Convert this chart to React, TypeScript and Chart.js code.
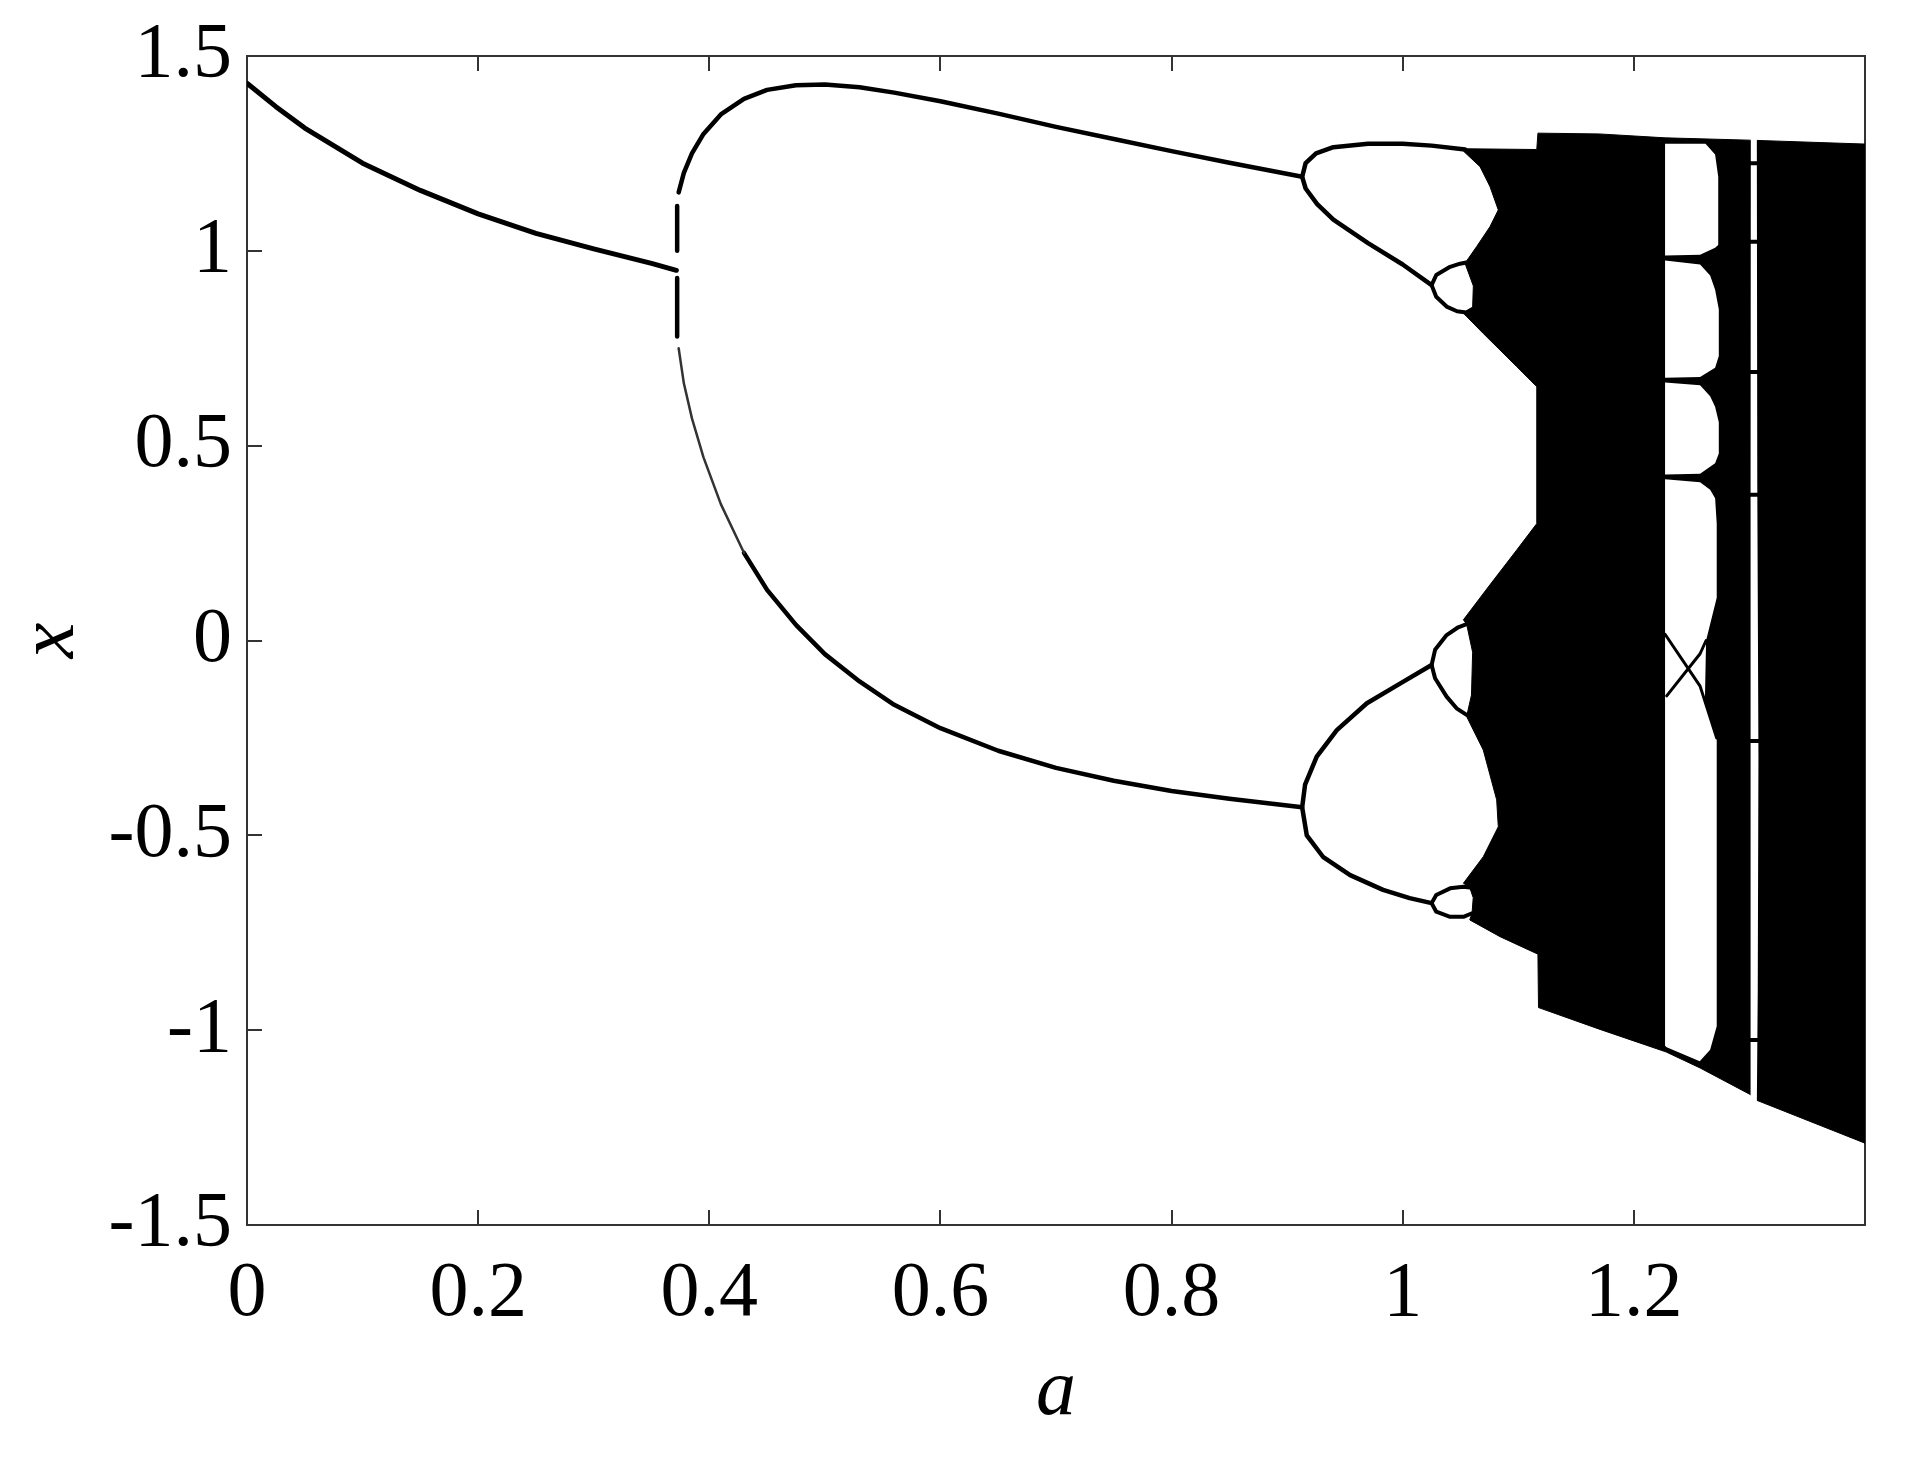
import React, { useEffect, useRef } from "react";
import { Chart, registerables } from "chart.js";

Chart.register(...registerables);

type Pt = [number, number];

// ---- axis ticks ----
const xTickValues = [0, 0.2, 0.4, 0.6, 0.8, 1.0, 1.2, 1.4];
const xTickLabels = ["0", "0.2", "0.4", "0.6", "0.8", "1", "1.2", ""];
const yTickValues = [-1.5, -1, -0.5, 0, 0.5, 1, 1.5];
const yTickLabels = ["-1.5", "-1", "-0.5", "0", "0.5", "1", "1.5"];

// ---- periodic branches (a, x) ----
const period1: Pt[] = [
  [0, 1.43], [0.025, 1.37], [0.05, 1.315], [0.1, 1.225], [0.15, 1.155], [0.2, 1.095],
  [0.25, 1.045], [0.3, 1.005], [0.35, 0.968], [0.3715, 0.95],
];
const transientDash1: Pt[] = [[0.3722, 1.115], [0.3722, 1.0]];
const transientDash2: Pt[] = [[0.3722, 0.93], [0.3722, 0.78]];

const period2Upper: Pt[] = [
  [0.3735, 1.15], [0.378, 1.2], [0.385, 1.25], [0.395, 1.3], [0.41, 1.35], [0.43, 1.39],
  [0.45, 1.413], [0.475, 1.425], [0.5, 1.427], [0.53, 1.42], [0.56, 1.406], [0.6, 1.384],
  [0.65, 1.352], [0.7, 1.318], [0.75, 1.287], [0.8, 1.256], [0.85, 1.226], [0.913, 1.19],
];
const period2LowerFaint: Pt[] = [
  [0.3735, 0.75], [0.378, 0.66], [0.385, 0.57], [0.395, 0.47], [0.41, 0.35], [0.43, 0.225],
];
const period2Lower: Pt[] = [
  [0.43, 0.225], [0.45, 0.13], [0.475, 0.04], [0.5, -0.035], [0.53, -0.105], [0.56, -0.165],
  [0.6, -0.225], [0.65, -0.283], [0.7, -0.327], [0.75, -0.36], [0.8, -0.386], [0.85, -0.406],
  [0.913, -0.428],
];

const period4Upper: Pt[] = [
  [1.054, 1.26], [1.025, 1.27], [1.0, 1.275], [0.97, 1.275], [0.94, 1.266], [0.925, 1.25],
  [0.916, 1.225], [0.913, 1.19], [0.916, 1.16], [0.926, 1.12], [0.94, 1.08], [0.97, 1.02],
  [1.0, 0.965], [1.025, 0.912],
];
const period4Lower: Pt[] = [
  [1.025, -0.063], [0.998, -0.11], [0.969, -0.161], [0.943, -0.23], [0.9256, -0.298],
  [0.9155, -0.37], [0.913, -0.428], [0.917, -0.5], [0.931, -0.555], [0.9545, -0.602],
  [0.983, -0.64], [1.006, -0.661], [1.025, -0.674],
];
const period8UpperOval: Pt[] = [
  [1.055, 0.97], [1.0496, 0.967], [1.041, 0.959], [1.029, 0.938], [1.025, 0.912],
  [1.029, 0.882], [1.038, 0.857], [1.047, 0.845], [1.055, 0.842], [1.06, 0.85],
];
const period8MidOval: Pt[] = [
  [1.0553, 0.042], [1.048, 0.034], [1.038, 0.014], [1.028, -0.024], [1.025, -0.063],
  [1.028, -0.097], [1.038, -0.144], [1.0466, -0.174], [1.0553, -0.191],
];
const period8LowOval: Pt[] = [
  [1.058, -0.634], [1.0525, -0.632], [1.041, -0.636], [1.029, -0.653], [1.025, -0.674],
  [1.029, -0.696], [1.041, -0.709], [1.0525, -0.709], [1.06, -0.7],
];

// ---- chaotic band outline (filled black) ----
const chaosOutline: Pt[] = [
  [1.0525, 1.262], [1.116, 1.26], [1.117, 1.302], [1.17, 1.3], [1.227, 1.29], [1.3, 1.284],
  [1.4, 1.274], [1.4, -1.29], [1.3064, -1.18], [1.3006, -1.165], [1.2573, -1.097],
  [1.228, -1.056], [1.1707, -0.998], [1.1175, -0.942], [1.117, -0.805], [1.0842, -0.76],
  [1.058, -0.717], [1.06, -0.7], [1.061, -0.66], [1.058, -0.634], [1.0525, -0.623],
  [1.0697, -0.555], [1.0827, -0.478], [1.0813, -0.409], [1.0697, -0.281], [1.0553, -0.195],
  [1.0595, -0.14], [1.0605, -0.03], [1.0553, 0.042], [1.0525, 0.053], [1.0755, 0.143],
  [1.0986, 0.232], [1.116, 0.3], [1.116, 0.6515], [1.0986, 0.703], [1.0697, 0.788],
  [1.0525, 0.84], [1.0605, 0.855], [1.0611, 0.91], [1.0539, 0.968], [1.064, 1.011],
  [1.0755, 1.062], [1.0827, 1.105], [1.0755, 1.165], [1.0669, 1.216], [1.0525, 1.256],
];

// ---- periodic windows inside the chaotic band (white) ----
const windowHole1: Pt[] = [
  [1.227, 1.275], [1.262, 1.275], [1.2703, 1.247], [1.273, 1.19], [1.273, 1.015],
  [1.2703, 1.008], [1.2573, 0.99], [1.227, 0.988],
];
const windowHole2: Pt[] = [
  [1.227, 0.975], [1.2573, 0.965], [1.266, 0.937], [1.2703, 0.9], [1.2735, 0.85],
  [1.2735, 0.73], [1.2703, 0.7], [1.2573, 0.676], [1.227, 0.674],
];
const windowHole3: Pt[] = [
  [1.227, 0.662], [1.2573, 0.655], [1.266, 0.627], [1.2703, 0.6], [1.2735, 0.56],
  [1.2735, 0.48], [1.2703, 0.455], [1.2573, 0.428], [1.227, 0.426],
];
const windowHole4: Pt[] = [
  [1.227, 0.414], [1.2573, 0.406], [1.266, 0.387], [1.2703, 0.365], [1.2717, 0.3],
  [1.2717, 0.11], [1.2625, 0.0], [1.2615, -0.15], [1.2717, -0.25], [1.2717, -0.99],
  [1.266, -1.05], [1.257, -1.08], [1.2284, -1.044], [1.227, -1.04],
];
const gapHole: Pt[] = [
  [1.3012, 1.29], [1.3064, 1.29], [1.3068, 0.4], [1.3078, -0.3], [1.3072, -0.9],
  [1.3064, -1.19], [1.3008, -1.19], [1.3008, -0.3], [1.3012, 0.4],
];
const windowCrossA: Pt[] = [[1.227, 0.016], [1.2573, -0.117], [1.2717, -0.25]];
const windowCrossB: Pt[] = [[1.2284, -0.142], [1.2573, -0.034], [1.2625, 0.0]];
const gapBranchX = [1.225, 1.023, 0.689, 0.374, -0.258, -1.025];
const gapBranchA: Pt = [1.2995, 1.3085];

const FONT = "'Liberation Serif', 'Times New Roman', Times, serif";
const W = 1895;
const H = 1451;

const toData = (pts: Pt[]) => pts.map(([a, v]) => ({ x: a, y: v }));

const lineDs = (pts: Pt[], width = 4.5, color = "#000") => ({
  data: toData(pts),
  borderColor: color,
  backgroundColor: color,
  borderWidth: width,
  borderCapStyle: "round",
  borderJoinStyle: "round",
  fill: false,
  pointRadius: 0,
  order: 1,
  xAxisID: "x",
  yAxisID: "y",
});

const polyDs = (pts: Pt[], color: string, order: number) => ({
  data: toData(pts),
  borderColor: color === "#000" ? "#000" : "rgba(255,255,255,0)",
  backgroundColor: color,
  borderWidth: color === "#000" ? 1 : 0,
  fill: "shape",
  pointRadius: 0,
  order,
  xAxisID: "x",
  yAxisID: "y",
});

const labelFor = (values: number[], labels: string[]) => (v: number | string) => {
  const n = Number(v);
  const i = values.findIndex((t) => Math.abs(t - n) < 1e-6);
  return i >= 0 ? labels[i] : "";
};

const zeroPad = (s: any) => {
  s.paddingTop = 0;
  s.paddingBottom = 0;
  s.paddingLeft = 0;
  s.paddingRight = 0;
};

export default function App() {
  const ref = useRef<HTMLCanvasElement>(null);

  useEffect(() => {
    if (!ref.current) return;
    const datasets: any[] = [
      polyDs(chaosOutline, "#000", 3),
      polyDs(windowHole1, "#fff", 2),
      polyDs(windowHole2, "#fff", 2),
      polyDs(windowHole3, "#fff", 2),
      polyDs(windowHole4, "#fff", 2),
      polyDs(gapHole, "#fff", 2),
      lineDs(period1, 5),
      lineDs(transientDash1, 4.5),
      lineDs(transientDash2, 4.5),
      lineDs(period2Upper, 4.5),
      lineDs(period2LowerFaint, 2.5, "#333"),
      lineDs(period2Lower, 4.5),
      lineDs(period4Upper, 4.5),
      lineDs(period4Lower, 4.5),
      lineDs(period8UpperOval, 4),
      lineDs(period8MidOval, 4),
      lineDs(period8LowOval, 4),
      lineDs(windowCrossA, 3),
      lineDs(windowCrossB, 3),
      ...gapBranchX.map((v) => lineDs([[gapBranchA[0], v], [gapBranchA[1], v]], 4)),
    ];

    const gridCommon = {
      drawOnChartArea: false,
      drawTicks: true,
      tickLength: -15,
      color: "#333",
      lineWidth: 2,
    };
    const borderCommon = { display: true, color: "#333", width: 2 };

    const chart = new Chart(ref.current, {
      type: "line",
      data: { datasets },
      options: {
        responsive: false,
        animation: false,
        events: [],
        layout: { padding: { top: 48, right: 38, left: 0, bottom: 0 } },
        elements: { point: { radius: 0, hitRadius: 0 }, line: { tension: 0 } },
        plugins: { legend: { display: false }, tooltip: { enabled: false } },
        scales: {
          x: {
            type: "linear",
            position: "bottom",
            min: 0,
            max: 1.4,
            grid: gridCommon,
            border: borderCommon,
            ticks: {
              stepSize: 0.2,
              autoSkip: false,
              maxRotation: 0,
              minRotation: 0,
              padding: 38,
              color: "#000",
              font: { family: FONT, size: 78 },
              callback: labelFor(xTickValues, xTickLabels),
            },
            title: {
              display: true,
              text: "a",
              color: "#000",
              font: { family: FONT, size: 80, style: "italic", lineHeight: 1 },
              padding: { top: 0, bottom: 26 },
            },
            afterFit: (s: any) => {
              s.height = H - 1217;
              zeroPad(s);
            },
          },
          y: {
            type: "linear",
            position: "left",
            min: -1.5,
            max: 1.5,
            grid: gridCommon,
            border: borderCommon,
            ticks: {
              stepSize: 0.5,
              autoSkip: false,
              padding: 30,
              color: "#000",
              font: { family: FONT, size: 78 },
              callback: labelFor(yTickValues, yTickLabels),
            },
            title: {
              display: true,
              text: "x",
              color: "#000",
              font: { family: FONT, size: 80, style: "italic", lineHeight: 1.1 },
              padding: { top: 0, bottom: 0 },
            },
            afterFit: (s: any) => {
              s.width = 239;
              zeroPad(s);
            },
          },
          x2: {
            type: "linear",
            axis: "x",
            position: "top",
            min: 0,
            max: 1.4,
            grid: gridCommon,
            border: borderCommon,
            ticks: { stepSize: 0.2, display: false },
            afterFit: (s: any) => {
              s.height = 0;
              zeroPad(s);
            },
          },
          y2: {
            type: "linear",
            axis: "y",
            position: "right",
            min: -1.5,
            max: 1.5,
            grid: gridCommon,
            border: borderCommon,
            ticks: { stepSize: 0.5, display: false },
            afterFit: (s: any) => {
              s.width = 0;
              zeroPad(s);
            },
          },
        },
      } as any,
    });
    return () => chart.destroy();
  }, []);

  return (
    <div style={{ width: W, height: H, background: "#fff" }}>
      <canvas ref={ref} width={W} height={H} style={{ display: "block" }} />
    </div>
  );
}
